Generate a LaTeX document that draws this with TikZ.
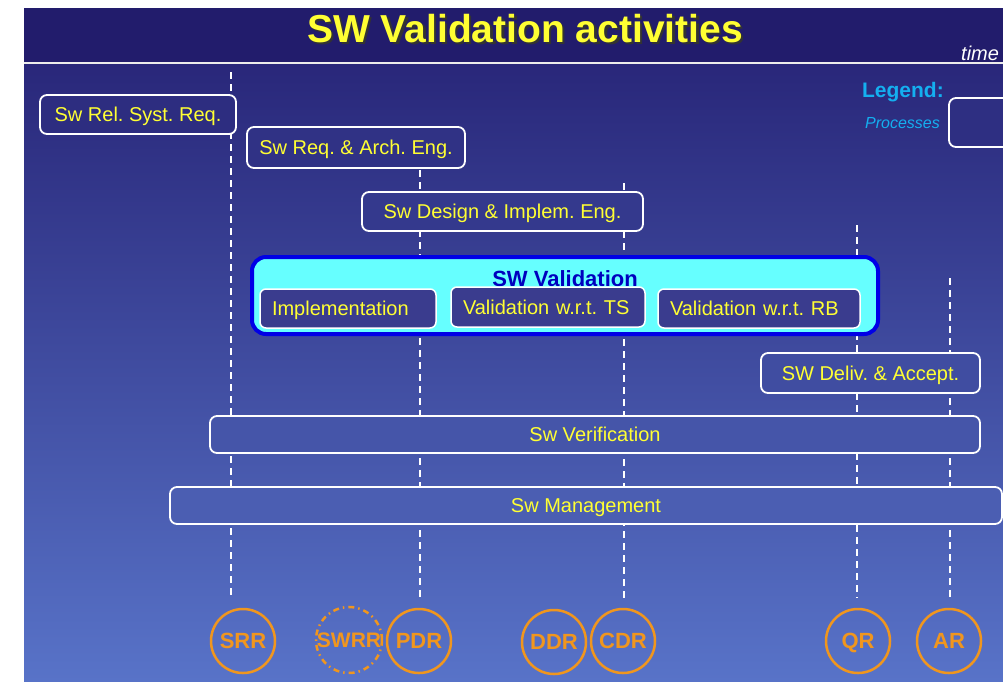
\documentclass[tikz,border=0pt]{standalone}
\usepackage{fontspec}
\setmainfont{Liberation Sans}
\frenchspacing
\definecolor{bgTitle}{RGB}{34,28,108}
\definecolor{bgTop}{RGB}{41,39,122}
\definecolor{bgBot}{RGB}{88,115,200}
\definecolor{yel}{RGB}{255,255,51}
\definecolor{msorange}{RGB}{240,150,30}
\definecolor{valcyan}{RGB}{102,255,255}
\definecolor{valblue}{RGB}{0,0,230}
\definecolor{valtext}{RGB}{0,0,190}
\definecolor{innerfill}{RGB}{58,60,142}
\definecolor{legcyan}{RGB}{20,175,240}
\tikzset{
  proc/.style={draw=white, line width=1.8pt, rounded corners=7pt, text=yel,
    font=\fontsize{20}{24}\selectfont, text height=14.3pt, text depth=0pt, inner sep=0pt},
  innerbox/.style={proc, fill=innerfill, line width=1.5pt, rounded corners=6pt,
    align=left, inner xsep=12pt},
  tl/.style={draw=white, line width=2pt, dash pattern=on 7pt off 5pt},
  ms/.style={circle, draw=msorange, line width=2.5pt, minimum size=64pt, inner sep=0pt,
    text=msorange, font=\bfseries\fontsize{22}{24}\selectfont, text height=15.8pt, text depth=0pt},
}
\begin{document}
\begin{tikzpicture}[x=1pt,y=-1pt]
\useasboundingbox (0,0) rectangle (1003,681);
\clip (0,0) rectangle (1003,681);
\fill[white] (0,0) rectangle (1003,681);
% background
\shade[top color=bgTop, bottom color=bgBot] (24,63) rectangle (1003,681);
\fill[bgTitle] (24,8) rectangle (1003,63);
\draw[white!85!gray, line width=1.5pt] (24,63) -- (1003,63);
% title
\node[text=black!80, font=\bfseries\fontsize{39}{44}\selectfont, inner sep=0pt, text height=28pt, text depth=0pt] (titleshadow) at (527.5,30.5) {SW Validation activities};
\node[text=yel, font=\bfseries\fontsize{39}{44}\selectfont, inner sep=0pt, text height=28pt, text depth=0pt] (title) at (525,28) {SW Validation activities};
\node[anchor=base west, text=white, font=\itshape\fontsize{20}{24}\selectfont, inner sep=0pt] (time) at (961,60) {time};
% legend
\node[anchor=base east, text=legcyan, font=\bfseries\fontsize{21}{24}\selectfont, inner sep=0pt] (legend) at (944,97) {Legend:};
\node[anchor=base east, text=legcyan, font=\itshape\fontsize{16}{20}\selectfont, inner sep=0pt] (processes) at (940,128) {Processes};
% timeline lines
\coordinate (l1t) at (231,72);  \coordinate (l1b) at (231,598);
\coordinate (l2t) at (420,170); \coordinate (l2b) at (420,598);
\coordinate (l3t) at (624,183); \coordinate (l3b) at (624,598);
\coordinate (l4t) at (857,225); \coordinate (l4b) at (857,598);
\coordinate (l5t) at (950,278); \coordinate (l5b) at (950,598);
\draw[tl] (l1t) -- (l1b);
\draw[tl] (l2t) -- (l2b);
\draw[tl] (l3t) -- (l3b);
\draw[tl] (l4t) -- (l4b);
\draw[tl] (l5t) -- (l5b);
% legend box
\node[proc, fill=bgBot!10!bgTop, minimum width=70pt, minimum height=49pt] (legbox) at (984,122.5) {};
% process boxes
\node[proc, fill=bgBot!8!bgTop, minimum width=196pt, minimum height=39pt] (rel) at (138,114.5) {Sw Rel. Syst. Req.};
\node[proc, fill=bgBot!14!bgTop, minimum width=218pt, minimum height=41pt] (req) at (356,147.5) {Sw Req. \& Arch. Eng.};
\node[proc, fill=bgBot!24!bgTop, minimum width=281pt, minimum height=39pt] (des) at (502.5,211.5) {Sw Design \& Implem. Eng.};
\node[draw=valblue, fill=valcyan, line width=4pt, rounded corners=14pt, minimum width=626pt, minimum height=77pt, inner sep=0pt] (val) at (565,295.5) {};
\node[text=valtext, font=\bfseries\fontsize{22}{24}\selectfont, inner sep=0pt, text height=15.8pt, text depth=0pt] (valtitle) at (565,279) {SW Validation};
\node[innerbox, text width=152pt, minimum height=39pt] (impl) at (348,308.5) {Implementation};
\node[innerbox, text width=170pt, minimum height=40pt] (ts) at (548,307) {Validation w.r.t. TS};
\node[innerbox, text width=178pt, minimum height=39pt] (rb) at (759,308.5) {Validation w.r.t. RB};
\node[proc, fill=bgBot!50!bgTop, minimum width=219pt, minimum height=40pt] (deliv) at (870.5,373) {SW Deliv. \& Accept.};
\node[proc, fill=bgBot!60!bgTop, minimum width=770pt, minimum height=37pt] (verif) at (595,434.5) {Sw Verification};
\node[proc, fill=bgBot!72!bgTop, minimum width=832pt, minimum height=37pt] (mgmt) at (586,505.5) {Sw Management};
% milestones
\node[ms] (srr) at (243,641) {SRR};
\node[ms, dash pattern=on 6pt off 4pt on 1.5pt off 4pt, font=\bfseries\fontsize{21}{24}\selectfont] (swrr) at (349,640) {SWRR};
\node[ms] (pdr) at (419,641) {PDR};
\node[ms] (ddr) at (554,642) {DDR};
\node[ms] (cdr) at (623,641) {CDR};
\node[ms] (qr) at (858,641) {QR};
\node[ms] (ar) at (949,641) {AR};
\end{tikzpicture}
\end{document}
